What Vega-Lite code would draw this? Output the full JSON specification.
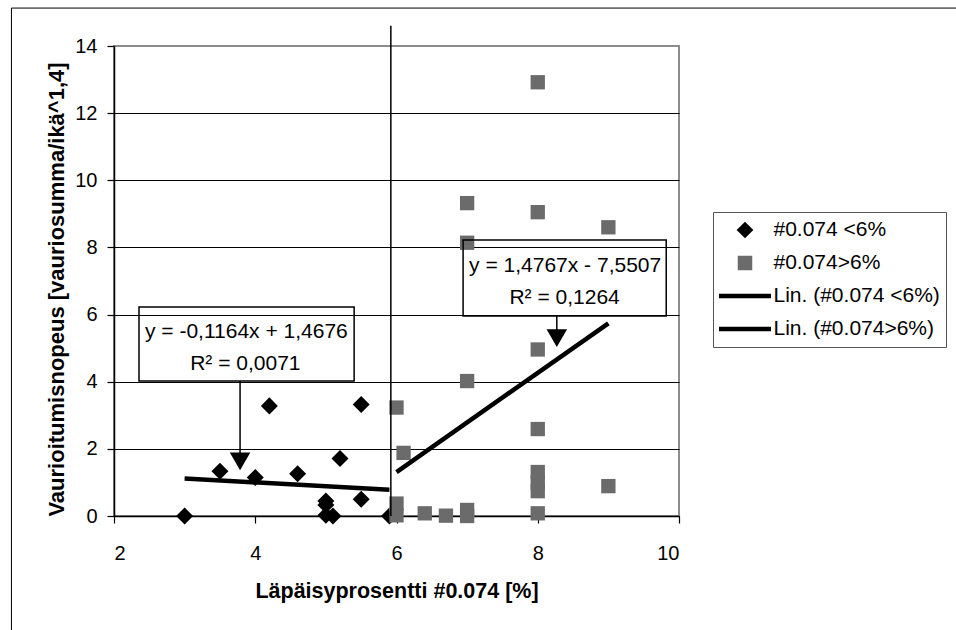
{
  "$schema": "https://vega.github.io/schema/vega-lite/v6.json",
  "width": 565,
  "height": 470,
  "autosize": {"type": "none"},
  "padding": {"left": 114, "top": 46, "right": 277, "bottom": 114},
  "background": "white",
  "config": {
    "font": "Liberation Sans",
    "view": {"stroke": "#8c8c8c", "strokeWidth": 2},
    "axis": {
      "labelFont": "Liberation Sans",
      "labelFontSize": 20,
      "labelColor": "black",
      "titleFont": "Liberation Sans",
      "titleFontSize": 21.5,
      "titleFontWeight": "bold",
      "titleColor": "black",
      "domainColor": "black",
      "domainWidth": 1.5,
      "tickColor": "black",
      "tickWidth": 1.2,
      "tickSize": 7
    }
  },
  "datasets": {
    "points": [
      {"x": 3, "y": 0, "series": "#0.074 <6%"},
      {"x": 3.5, "y": 1.33, "series": "#0.074 <6%"},
      {"x": 4, "y": 1.15, "series": "#0.074 <6%"},
      {"x": 4.2, "y": 3.28, "series": "#0.074 <6%"},
      {"x": 4.6, "y": 1.26, "series": "#0.074 <6%"},
      {"x": 5, "y": 0.45, "series": "#0.074 <6%"},
      {"x": 5, "y": 0.33, "series": "#0.074 <6%"},
      {"x": 5, "y": 0.02, "series": "#0.074 <6%"},
      {"x": 5.1, "y": 0, "series": "#0.074 <6%"},
      {"x": 5.2, "y": 1.71, "series": "#0.074 <6%"},
      {"x": 5.5, "y": 3.32, "series": "#0.074 <6%"},
      {"x": 5.5, "y": 0.5, "series": "#0.074 <6%"},
      {"x": 5.9, "y": 0, "series": "#0.074 <6%"},
      {"x": 6, "y": 3.23, "series": "#0.074>6%"},
      {"x": 6.1, "y": 1.88, "series": "#0.074>6%"},
      {"x": 6, "y": 0.37, "series": "#0.074>6%"},
      {"x": 6, "y": 0.02, "series": "#0.074>6%"},
      {"x": 6.4, "y": 0.08, "series": "#0.074>6%"},
      {"x": 6.7, "y": 0.01, "series": "#0.074>6%"},
      {"x": 7, "y": 9.32, "series": "#0.074>6%"},
      {"x": 7, "y": 8.14, "series": "#0.074>6%"},
      {"x": 7, "y": 4.02, "series": "#0.074>6%"},
      {"x": 7, "y": 0.18, "series": "#0.074>6%"},
      {"x": 7, "y": 0, "series": "#0.074>6%"},
      {"x": 8, "y": 12.92, "series": "#0.074>6%"},
      {"x": 8, "y": 9.05, "series": "#0.074>6%"},
      {"x": 8, "y": 4.96, "series": "#0.074>6%"},
      {"x": 8, "y": 2.59, "series": "#0.074>6%"},
      {"x": 8, "y": 1.31, "series": "#0.074>6%"},
      {"x": 8, "y": 1.0, "series": "#0.074>6%"},
      {"x": 8, "y": 0.74, "series": "#0.074>6%"},
      {"x": 8, "y": 0.08, "series": "#0.074>6%"},
      {"x": 9, "y": 8.6, "series": "#0.074>6%"},
      {"x": 9, "y": 0.89, "series": "#0.074>6%"}
    ],
    "trend": [
      {"x": 3, "y": 1.1184, "series": "Lin. (#0.074 <6%)"},
      {"x": 5.9, "y": 0.7808, "series": "Lin. (#0.074 <6%)"},
      {"x": 6, "y": 1.3095, "series": "Lin. (#0.074>6%)"},
      {"x": 9, "y": 5.7396, "series": "Lin. (#0.074>6%)"}
    ],
    "divider": [
      {"x": 5.92, "y": 0, "y2": 14.6}
    ],
    "frame": [
      {"x": 0.548, "x2": 14, "y": 15.13, "y2": -4}
    ],
    "boxes": [
      {"x": 2.354, "x2": 5.40, "y": 4.02, "y2": 6.226},
      {"x": 6.943, "x2": 9.819, "y": 5.958, "y2": 8.222}
    ],
    "arrows": [
      {"x": 3.785, "y": 4.02, "y2": 1.63},
      {"x": 8.27, "y": 5.958, "y2": 5.30}
    ],
    "heads": [
      {"x": 3.785, "y": 1.63},
      {"x": 8.27, "y": 5.30}
    ],
    "labels": [
      {"x": 3.874, "y": 5.48, "text": "y = -0,1164x + 1,4676"},
      {"x": 3.86, "y": 4.53, "text": "R² = 0,0071"},
      {"x": 8.388, "y": 7.46, "text": "y = 1,4767x - 7,5507"},
      {"x": 8.38, "y": 6.48, "text": "R² = 0,1264"}
    ]
  },
  "encoding": {
    "x": {
      "field": "x", "type": "quantitative",
      "scale": {"domain": [2, 10], "nice": false, "zero": false},
      "axis": {
        "orient": "bottom",
        "values": [2, 4, 6, 8, 10], "format": "d", "grid": false, "labelPadding": 20,
        "title": "Läpäisyprosentti #0.074 [%]",
        "titleY": 81, "titleBaseline": "alphabetic"
      }
    },
    "y": {
      "field": "y", "type": "quantitative",
      "scale": {"domain": [0, 14], "nice": false, "zero": false},
      "axis": {
        "orient": "left",
        "values": [0, 2, 4, 6, 8, 10, 12, 14], "format": "d", "grid": true,
        "gridColor": "black", "gridWidth": 1,
        "gridOpacity": {"condition": {"test": "datum.value == 14", "value": 0}, "value": 1},
        "labelPadding": 10,
        "title": "Vaurioitumisnopeus [vauriosumma/ikä^1,4]",
        "titleFontSize": 22,
        "titleX": -58, "titleY": 243, "titleBaseline": "middle"
      }
    }
  },
  "layer": [
    {
      "data": {"name": "points"},
      "mark": {"type": "point", "filled": true, "opacity": 1},
      "encoding": {
        "color": {
          "field": "series", "type": "nominal",
          "scale": {
            "domain": ["#0.074 <6%", "#0.074>6%", "Lin. (#0.074 <6%)", "Lin. (#0.074>6%)"],
            "range": ["#000000", "#6b6b6b", "#000000", "#000000"]
          },
          "legend": {
            "title": null, "orient": "none", "legendX": 599, "legendY": 166,
            "strokeColor": "#555555", "fillColor": "white", "padding": 6,
            "labelFont": "Liberation Sans", "labelFontSize": 21, "labelColor": "black",
            "labelLimit": 0, "clipHeight": 24, "rowPadding": 9,
            "symbolOffset": 15.5, "labelOffset": 18,
            "symbolOpacity": 1,
            "encode": {
              "symbols": {
                "update": {
                  "shape": {"signal": "datum.value == '#0.074 <6%' ? 'diamond' : (datum.value == '#0.074>6%' ? 'square' : 'stroke')"},
                  "size": {"signal": "datum.value == '#0.074 <6%' ? 280 : (datum.value == '#0.074>6%' ? 210 : 2704)"},
                  "strokeWidth": {"signal": "datum.value == '#0.074 <6%' || datum.value == '#0.074>6%' ? 0 : 4.5"},
                  "stroke": {"value": "black"},
                  "opacity": {"value": 1}
                }
              }
            }
          }
        },
        "shape": {
          "field": "series", "type": "nominal",
          "scale": {"domain": ["#0.074 <6%", "#0.074>6%"], "range": ["diamond", "square"]},
          "legend": null
        },
        "size": {
          "field": "series", "type": "ordinal",
          "scale": {"domain": ["#0.074 <6%", "#0.074>6%"], "range": [290, 205]},
          "legend": null
        }
      }
    },
    {
      "data": {"name": "trend"},
      "mark": {"type": "line", "strokeWidth": 4.5},
      "encoding": {
        "color": {"field": "series", "type": "nominal"}
      }
    },
    {
      "data": {"name": "divider"},
      "mark": {"type": "rule", "color": "black", "strokeWidth": 1.5},
      "encoding": {
        "y2": {"field": "y2"}
      }
    },
    {
      "data": {"name": "frame"},
      "mark": {"type": "rect", "fillOpacity": 0, "stroke": "black", "strokeWidth": 1},
      "encoding": {
        "x2": {"field": "x2"},
        "y2": {"field": "y2"}
      }
    },
    {
      "data": {"name": "boxes"},
      "mark": {"type": "rect", "fillOpacity": 0, "stroke": "black", "strokeWidth": 1.5},
      "encoding": {
        "x2": {"field": "x2"},
        "y2": {"field": "y2"}
      }
    },
    {
      "data": {"name": "arrows"},
      "mark": {"type": "rule", "color": "black", "strokeWidth": 1.5},
      "encoding": {
        "y2": {"field": "y2"}
      }
    },
    {
      "data": {"name": "heads"},
      "mark": {"type": "point", "shape": "triangle-down", "filled": true, "size": 420, "color": "black", "opacity": 1}
    },
    {
      "data": {"name": "labels"},
      "mark": {"type": "text", "font": "Liberation Sans", "fontSize": 21, "color": "black", "align": "center", "baseline": "middle"},
      "encoding": {
        "text": {"field": "text"}
      }
    }
  ]
}
